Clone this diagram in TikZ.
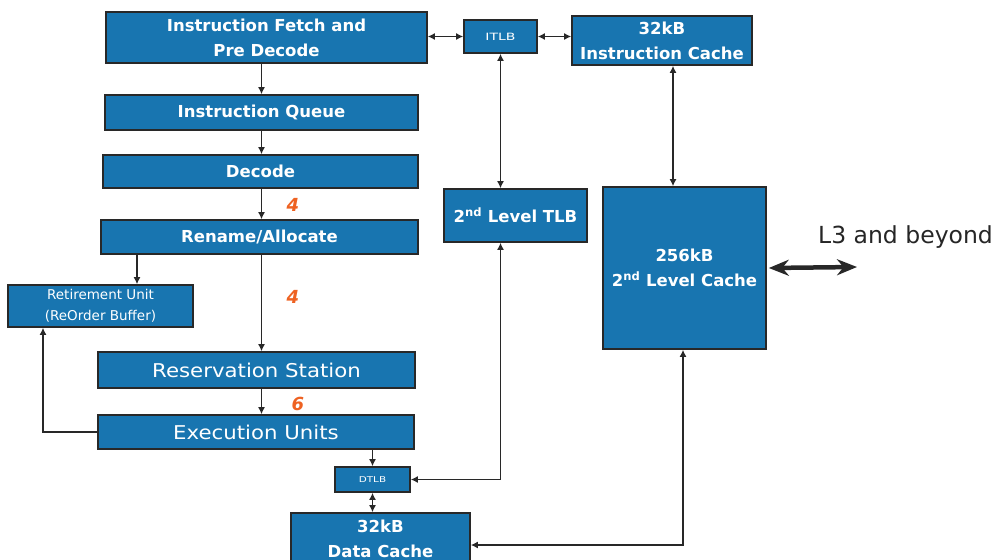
\documentclass[tikz,border=0pt]{standalone}
\usepackage{fontspec}
\setmainfont{DejaVu Sans}
\newfontfamily\widefont[FakeStretch=1.12]{DejaVu Sans}
\usetikzlibrary{arrows.meta}
\definecolor{boxblue}{RGB}{24,117,176}
\definecolor{lineg}{RGB}{40,40,40}
\definecolor{numor}{RGB}{238,98,34}
\tikzset{
  blk/.style={draw=lineg, line width=1.6pt, fill=boxblue, text=white, inner sep=0pt, align=center},
  bigbf/.style={font=\bfseries\fontsize{16.5}{25}\selectfont},
  bigrm/.style={font=\widefont\fontsize{19}{24}\selectfont},
  smallrm/.style={font=\fontsize{13.5}{21}\selectfont},
  tinyrm/.style={font=\fontsize{10}{12}\selectfont},
  num/.style={font=\bfseries\itshape\fontsize{18}{20}\selectfont, text=numor, inner sep=0pt},
  conn/.style={draw=lineg, line width=1.9pt, -{Latex[length=7pt,width=7pt]}},
  dconn/.style={draw=lineg, line width=1.9pt, {Latex[length=7pt,width=7pt]}-{Latex[length=7pt,width=7pt]}},
  thick2/.style={draw=lineg, line width=4.5pt, {Stealth[length=20pt,width=16pt]}-{Stealth[length=20pt,width=16pt]}}
}
\begin{document}
\begin{tikzpicture}[x=1pt,y=-1pt]
\useasboundingbox (0,0) rectangle (1005,560);
% boxes
\node[blk,bigbf,minimum width=321pt,minimum height=51pt] (IF) at (266.5,37.5) {Instruction Fetch and\\Pre Decode};
\node[blk,tinyrm,minimum width=73pt,minimum height=33pt] (ITLB) at (500.5,36.5) {\scalebox{1.4}[1]{ITLB}};
\node[blk,bigbf,minimum width=180pt,minimum height=49pt] (IC) at (662,40.5) {32kB\\Instruction Cache};
\node[blk,bigbf,minimum width=313pt,minimum height=35pt] (IQ) at (261.5,112.5) {Instruction Queue};
\node[blk,bigbf,minimum width=315pt,minimum height=33pt] (DEC) at (260.5,171.5) {Decode};
\node[blk,bigbf,minimum width=317pt,minimum height=34pt] (REN) at (259.5,237) {Rename/Allocate};
\node[blk,smallrm,minimum width=185pt,minimum height=42pt] (RET) at (100.5,306) {Retirement Unit\\(ReOrder Buffer)};
\node[blk,bigrm,minimum width=317pt,minimum height=36pt] (RS) at (256.5,370) {Reservation Station};
\node[blk,bigrm,minimum width=316pt,minimum height=34pt] (EU) at (256,432) {Execution Units};
\node[blk,font=\fontsize{8}{10}\selectfont,minimum width=75pt,minimum height=25pt] (DTLB) at (372.5,479.5) {\scalebox{1.3}[1]{DTLB}};
\node[blk,bigbf,minimum width=179pt,minimum height=52pt] (DC) at (380.5,539) {32kB\\Data Cache};
\node[blk,bigbf,minimum width=143pt,minimum height=53pt] (TLB2) at (515.5,215.5) {2\textsuperscript{nd} Level TLB};
\node[blk,bigbf,minimum width=163pt,minimum height=162pt] (L2) at (684.5,268) {256kB\\2\textsuperscript{nd} Level Cache};
\node[anchor=base west,inner sep=0pt,font=\fontsize{23.5}{26}\selectfont,text=black!85] (L3) at (818,243) {L3 and beyond};
\coordinate (L3end) at (857,267);
% numbers
\node[num] (n1) at (293,205) {4};
\node[num] (n2) at (293,297) {4};
\node[num] (n3) at (298,404) {6};
% connectors
\draw[conn] (IF.south -| IQ.north) -- (IQ.north);
\draw[conn] (IQ.south) -- (IQ.south |- DEC.north);
\draw[conn] (DEC.south -| IQ.south) -- (IQ.south |- REN.north);
\draw[conn] (REN.south -| IQ.south) -- (IQ.south |- RS.north);
\draw[conn] (RS.south -| IQ.south) -- (IQ.south |- EU.north);
\draw[conn] ([xshift=-122.5pt]REN.south) -- ([xshift=-122.5pt]REN.south |- RET.north);
\draw[conn] (EU.west) -| ([xshift=-57.5pt]RET.south);
\draw[conn] (EU.south -| DTLB.north) -- (DTLB.north);
\draw[dconn] (DTLB.south) -- (DTLB.south |- DC.north);
\draw[dconn] (IF.east |- ITLB.west) -- (ITLB.west);
\draw[dconn] (ITLB.east) -- (ITLB.east -| IC.west);
\draw[dconn] (ITLB.south) -- (ITLB.south |- TLB2.north);
\draw[dconn] ([xshift=11pt]IC.south) -- ([xshift=11pt]IC.south |- L2.north);
\draw[dconn] (ITLB.south |- TLB2.south) |- (DTLB.east);
\draw[dconn] ([xshift=-1.5pt]L2.south) |- ([yshift=-6pt]DC.east);
\draw[thick2] ([xshift=2pt]L2.east) -- (L3end);
\end{tikzpicture}
\end{document}
